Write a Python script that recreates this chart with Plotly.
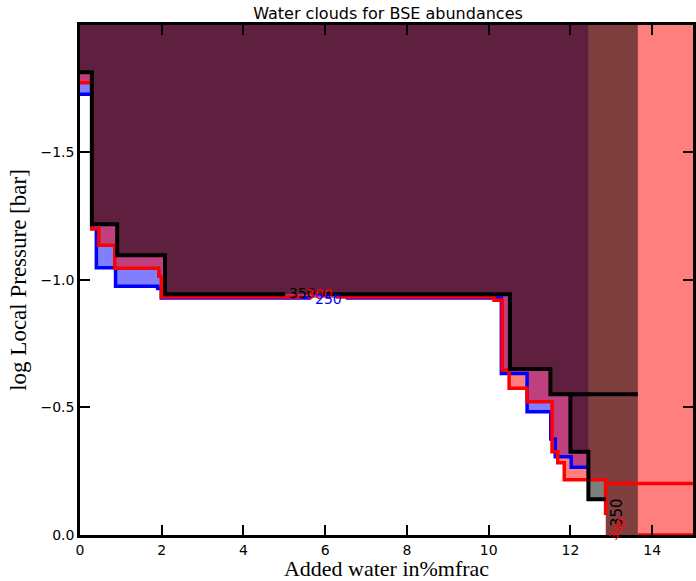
import plotly.graph_objects as go

# ---- data (log local pressure vs added water) ----
# step contours: edges (x where each level starts / final end) and levels
black_edges = [0, 0.29, 0.91, 2.08, 10.52, 11.51, 12.00, 12.44, 12.87]
black_levels = [-1.813, -1.217, -1.096, -0.943, -0.650, -0.551, -0.326, -0.140]
black_right = 13.65
black_branch_x = [12.00, 13.65]
black_branch_y = [-0.551, -0.551]

red_edges = [0, 0.29, 0.46, 0.85, 1.93, 1.99, 10.13, 10.33, 10.50, 10.94, 11.55, 11.69, 11.85, 12.86]
red_levels = [-1.772, -1.200, -1.135, -1.045, -1.014, -0.932, -0.920, -0.646, -0.575, -0.522, -0.326, -0.283, -0.216]
red_tail_y = -0.078
red_branch_x = [12.86, 15.0]
red_branch_y = [-0.202, -0.202]
red_bottom_x = [13.65, 15.0]
red_bottom_y = [0.0, 0.0]

blue_edges = [0, 0.29, 0.40, 0.87, 1.90, 1.99, 10.31, 10.94, 11.52, 11.63, 12.02, 12.44]
blue_levels = [-1.727, -1.200, -1.047, -0.975, -0.966, -0.928, -0.633, -0.483, -0.376, -0.307, -0.265]

label_text = ["350", "300", "250"]
label_x = [5.45, 5.85, 6.08]
label_y = [-0.950, -0.944, -0.926]
label_gaps = [(5.02, 5.90), (5.44, 6.26), (5.66, 6.50)]

x_ticks = [0, 2, 4, 6, 8, 10, 12, 14]
y_ticks = [0.0, -0.5, -1.0, -1.5]
y_ticktext = ["0.0", "\u22120.5", "\u22121.0", "\u22121.5"]

X_MAX = 15.0
Y_TOP = -2.0


def steps(edges, levels):
    xs, ys = [], []
    for i, lv in enumerate(levels):
        xs += [edges[i], edges[i + 1]]
        ys += [lv, lv]
    return xs, ys


def with_gap(xs, ys, gap):
    g0, g1 = gap
    ox, oy = [xs[0]], [ys[0]]
    for i in range(1, len(xs)):
        xa, ya, xb, yb = xs[i - 1], ys[i - 1], xs[i], ys[i]
        if ya == yb and xa <= g0 and xb >= g1:
            ox += [g0, None, g1]
            oy += [ya, None, ya]
        ox.append(xb)
        oy.append(yb)
    return ox, oy


bx, by = steps(black_edges, black_levels)
rx, ry = steps(red_edges, red_levels)
ux, uy = steps(blue_edges, blue_levels)

fig = go.Figure()

# filled regions (blue, red, black with alpha 0.5)
fig.add_trace(go.Scatter(
    x=ux + [blue_edges[-1], 0], y=uy + [Y_TOP, Y_TOP],
    fill="toself", fillcolor="rgba(0,0,255,0.5)", line=dict(width=0),
    mode="lines", hoverinfo="skip"))
fig.add_trace(go.Scatter(
    x=rx + [red_edges[-1], X_MAX, X_MAX, 0], y=ry + [0, 0, Y_TOP, Y_TOP],
    fill="toself", fillcolor="rgba(255,0,0,0.5)", line=dict(width=0),
    mode="lines", hoverinfo="skip"))
fig.add_trace(go.Scatter(
    x=bx + [black_edges[-1], black_right, black_right, 0], y=by + [0, 0, Y_TOP, Y_TOP],
    fill="toself", fillcolor="rgba(0,0,0,0.5)", line=dict(width=0),
    mode="lines", hoverinfo="skip"))

# contour lines
lx, ly = with_gap(ux, uy, label_gaps[2])
fig.add_trace(go.Scatter(x=lx, y=ly, mode="lines",
                         line=dict(color="#0000ff", width=3.5), hoverinfo="skip"))
lx, ly = with_gap(rx + [red_edges[-1]], ry + [red_tail_y], label_gaps[1])
fig.add_trace(go.Scatter(x=lx, y=ly, mode="lines",
                         line=dict(color="#ff0000", width=3.5), hoverinfo="skip"))
fig.add_trace(go.Scatter(x=red_branch_x, y=red_branch_y, mode="lines",
                         line=dict(color="#ff0000", width=3.5), hoverinfo="skip"))
fig.add_trace(go.Scatter(x=red_bottom_x, y=red_bottom_y, mode="lines",
                         line=dict(color="#ff0000", width=3.5), hoverinfo="skip"))
lx, ly = with_gap(bx, by, label_gaps[0])
fig.add_trace(go.Scatter(x=lx, y=ly, mode="lines",
                         line=dict(color="#000000", width=4), hoverinfo="skip"))
fig.add_trace(go.Scatter(x=black_branch_x, y=black_branch_y, mode="lines",
                         line=dict(color="#000000", width=4), hoverinfo="skip"))

label_colors = ["#000000", "#ff0000", "#0000ff"]
annotations = []
for t, x, y, c in zip(label_text, label_x, label_y, label_colors):
    annotations.append(dict(x=x, y=y, xref="x", yref="y", text=t, showarrow=False,
                            font=dict(family="DejaVu Sans", size=14, color=c)))
annotations.append(dict(x=13.14, y=-0.09, xref="x", yref="y", text="350", showarrow=False,
                        textangle=-90, font=dict(family="DejaVu Sans", size=15, color="#000000")))
annotations.append(dict(x=13.16, y=-0.025, xref="x", yref="y", text="300", showarrow=False,
                        textangle=-60, font=dict(family="DejaVu Sans", size=12, color="#ff0000")))

axis_common = dict(showline=True, linecolor="black", linewidth=2.5, mirror="ticks",
                   ticks="inside", ticklen=10, tickwidth=2, tickcolor="black",
                   showgrid=False, zeroline=False,
                   tickfont=dict(family="DejaVu Sans", size=14, color="black"))

fig.update_layout(
    width=696, height=581,
    margin=dict(l=80, r=0, t=25, b=46),
    paper_bgcolor="white", plot_bgcolor="white",
    showlegend=False,
    title=dict(text="Water clouds for BSE abundances", x=0.5575, xanchor="center",
               y=1 - 13 / 581, yanchor="middle", yref="container",
               font=dict(family="DejaVu Sans", size=16, color="black")),
    xaxis=dict(range=[0, X_MAX], tickvals=x_ticks,
               title=dict(text="Added water in%mfrac", standoff=8,
                          font=dict(family="Liberation Serif", size=22, color="black")),
               **axis_common),
    yaxis=dict(range=[0, -1.998], tickvals=y_ticks, ticktext=y_ticktext,
               title=dict(text="log Local Pressure [bar]", standoff=8,
                          font=dict(family="Liberation Serif", size=23, color="black")),
               **axis_common),
    annotations=annotations,
)

fig.write_html("out.html")
